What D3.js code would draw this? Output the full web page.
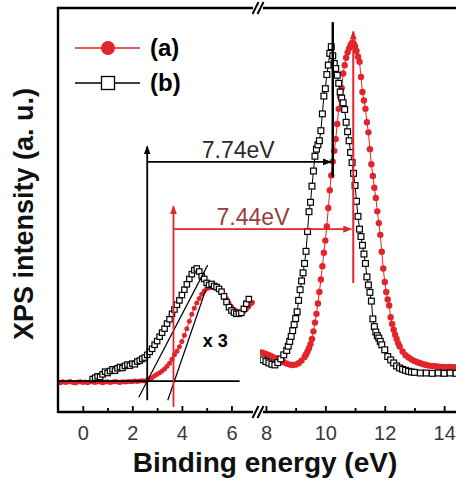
<!DOCTYPE html>
<html lang="en">
<head>
    <meta charset="UTF-8">
    <title>XPS valence band</title>
    <script src="https://d3js.org/d3.v7.min.js"></script>
    <style>
        body { margin: 0; background: #fff; }
        svg { display: block; font-family: "Liberation Sans", Arial, sans-serif; }
    </style>
</head>
<body>
<div id="chart"></div>
<script type="text/javascript">

    // ---- data (binding energy eV, intensity a.u.) ----
    // low energy part is shown x3
    var seriesALow = [
        [-1.0,-0.3],[-0.9,-0.5],[-0.8,-0.2],[-0.7,-0.4],[-0.6,-0.3],[-0.5,-0.1],[-0.4,-0.4],[-0.3,-0.6],
        [-0.2,-0.3],[-0.1,-0.2],[0.0,-0.4],[0.1,-0.3],[0.2,-0.5],[0.3,-0.2],[0.4,-0.3],[0.5,-0.4],
        [0.6,-0.2],[0.7,-0.3],[0.8,-0.5],[0.9,-0.3],[1.0,-0.2],[1.1,-0.4],[1.2,-0.3],[1.3,-0.1],
        [1.4,-0.3],[1.5,-0.4],[1.6,-0.2],[1.7,-0.3],[1.8,-0.2],[1.9,-0.1],[2.0,-0.2],[2.1,0.0],
        [2.2,-0.1],[2.3,0.0],[2.4,0.1],[2.5,0.0],[2.6,0.3],[2.7,0.7],[2.8,1.1],[2.9,1.6],
        [3.0,2.0],[3.1,2.5],[3.2,3.0],[3.3,3.6],[3.4,4.4],[3.5,5.3],[3.6,6.5],[3.7,7.8],
        [3.8,8.9],[3.9,10.2],[4.0,11.8],[4.1,13.6],[4.2,15.6],[4.3,17.8],[4.4,19.9],[4.5,21.7],
        [4.6,23.2],[4.7,24.6],[4.8,25.8],[4.9,26.8],[5.0,27.5],[5.1,27.8],[5.2,27.9],[5.3,27.8],
        [5.4,27.6],[5.5,27.2],[5.6,26.6],[5.7,25.7],[5.8,24.5],[5.9,23.3],[6.0,22.2],[6.1,21.4],
        [6.2,20.9],[6.3,20.6],[6.4,20.5],[6.5,20.7],[6.6,21.3],[6.7,22.1],[6.8,23.0],[6.85,23.4]
    ];
    var seriesBLow = [
        [0.4,0.6],[0.5,1.0],[0.6,1.4],[0.7,1.2],[0.8,2.0],[0.9,2.8],[1.0,2.4],[1.1,3.0],
        [1.2,3.5],[1.3,3.1],[1.4,3.8],[1.5,4.2],[1.6,3.9],[1.7,4.5],[1.8,4.9],[1.9,4.6],
        [2.0,5.2],[2.1,5.0],[2.2,5.8],[2.3,6.1],[2.4,6.6],[2.5,7.0],[2.6,7.8],[2.7,8.7],
        [2.8,9.6],[2.9,10.8],[3.0,11.9],[3.1,13.2],[3.2,14.4],[3.3,15.6],[3.4,17.1],[3.5,18.4],
        [3.6,20.0],[3.7,21.3],[3.8,22.7],[3.9,24.0],[4.0,25.6],[4.1,27.2],[4.2,28.8],[4.3,30.4],
        [4.4,31.8],[4.5,33.0],[4.6,33.5],[4.7,32.6],[4.8,31.2],[4.9,30.4],[5.0,29.2],[5.1,28.6],
        [5.2,28.9],[5.3,28.3],[5.4,28.0],[5.5,27.4],[5.6,26.6],[5.7,25.2],[5.8,23.5],[5.9,22.0],
        [6.0,21.0],[6.1,20.4],[6.2,20.0],[6.3,20.1],[6.4,20.3],[6.5,21.5],[6.6,23.0],[6.7,24.4]
    ];
    var seriesAHigh = [
        [7.85,8.5],[7.9,8.4],[8.0,8.1],[8.1,7.7],[8.2,7.3],[8.3,6.9],[8.4,6.5],[8.5,6.0],
        [8.6,5.6],[8.7,5.2],[8.8,4.9],[8.9,4.8],[9.0,4.9],[9.1,5.3],[9.2,6.1],[9.3,7.2],
        [9.35,7.9],[9.4,8.8],[9.45,9.8],[9.5,11.0],[9.55,12.5],[9.6,14.8],[9.65,17.4],[9.7,20.0],
        [9.75,23.1],[9.8,26.5],[9.85,30.2],[9.9,34.2],[9.95,38.2],[10.0,41.8],[10.05,46.0],[10.1,51.5],
        [10.15,56.8],[10.2,61.2],[10.25,65.3],[10.3,68.5],[10.35,72.0],[10.4,76.5],[10.45,81.0],[10.5,84.5],
        [10.55,87.2],[10.6,91.5],[10.65,94.0],[10.7,96.2],[10.75,97.8],[10.8,99.0],[10.85,100.0],[10.9,100.6],
        [10.95,100.5],[11.0,99.6],[11.05,98.2],[11.1,96.5],[11.15,95.0],[11.2,90.5],[11.25,86.0],[11.3,83.5],
        [11.35,81.0],[11.4,77.0],[11.45,74.0],[11.5,69.0],[11.55,64.5],[11.6,61.0],[11.65,57.5],[11.7,54.5],
        [11.75,50.5],[11.8,47.0],[11.85,43.5],[11.9,38.5],[11.95,33.5],[12.0,29.5],[12.05,26.5],[12.1,24.3],
        [12.15,22.5],[12.2,19.0],[12.25,17.0],[12.3,15.3],[12.35,13.8],[12.4,12.5],[12.45,11.3],[12.5,10.3],
        [12.6,8.8],[12.7,7.7],[12.8,7.0],[12.9,6.4],[13.0,6.0],[13.1,5.6],[13.2,5.3],[13.3,5.0],
        [13.4,4.8],[13.5,4.6],[13.6,4.5],[13.7,4.4],[13.8,4.3],[13.9,4.2],[14.0,4.2],[14.1,4.1],
        [14.2,4.2],[14.3,4.1],[14.4,4.1]
    ];
    var seriesBHigh = [
        [7.9,6.3],[8.0,5.8],[8.1,5.4],[8.2,5.0],[8.3,4.8],[8.4,5.5],[8.5,6.6],[8.6,7.8],
        [8.7,9.1],[8.75,10.4],[8.8,11.8],[8.85,13.3],[8.9,15.0],[8.95,16.8],[9.0,18.6],[9.05,20.6],
        [9.1,24.0],[9.15,27.2],[9.2,29.8],[9.25,32.2],[9.3,35.0],[9.35,38.6],[9.4,44.5],[9.45,50.4],
        [9.5,53.2],[9.55,58.0],[9.6,62.5],[9.65,66.9],[9.7,69.0],[9.75,70.3],[9.8,71.5],[9.85,74.5],
        [9.9,79.5],[9.95,84.8],[10.0,87.0],[10.05,91.2],[10.1,94.0],[10.15,97.5],[10.2,99.5],[10.25,96.8],
        [10.3,94.5],[10.35,93.0],[10.4,91.0],[10.45,88.6],[10.5,86.0],[10.55,84.2],[10.6,82.8],[10.65,80.8],
        [10.7,77.0],[10.75,74.2],[10.8,71.5],[10.85,68.0],[10.9,65.0],[10.95,61.8],[11.0,58.2],[11.05,53.5],
        [11.1,49.0],[11.15,45.2],[11.2,43.0],[11.25,40.4],[11.3,37.8],[11.35,35.0],[11.4,31.0],[11.45,28.6],
        [11.5,26.4],[11.55,23.8],[11.6,18.5],[11.65,16.2],[11.7,14.6],[11.75,13.5],[11.8,12.8],[11.85,11.8],
        [11.9,10.8],[12.0,9.3],[12.1,7.3],[12.2,6.3],[12.3,5.4],[12.4,4.5],[12.5,3.9],[12.6,3.5],
        [12.7,3.2],[12.8,2.9],[12.9,2.7],[13.0,2.6],[13.2,2.4],[13.4,2.4],[13.6,2.3],[13.8,2.4],
        [14.0,2.3],[14.2,2.4],[14.4,2.3]
    ];

    var ticksLow = [0, 2, 4, 6];
    var ticksHigh = [8, 10, 12, 14];
    var minorLow = [1, 3, 5];
    var minorHigh = [9, 11, 13];

    // onset (low scale) and peak (high scale) energies, arrow levels
    var gapLabels = ["7.74eV", "7.44eV"];
    var onsetEnergy = [2.6, 3.66];
    var peakEnergy = [10.25, 10.94];
    var arrowLevel = [65.2, 45.2];
    // linear fits of the leading edges
    var tangentB = [[2.26, -4.8], [5.04, 34.5]];
    var tangentA = [[3.43, -5.7], [4.96, 27.1]];

    var red = "#e3242b";

    //Width and height
    var width = 456;
    var height = 480;
    var axisY = 412, topY = 8, leftX = 58;

    // broken x axis: two linear pieces
    var xLow = d3.scaleLinear().domain([-1, 6.95]).range([58, 255]);
    var xHigh = d3.scaleLinear().domain([7.8, 14.5]).range([260, 459]);
    var y = d3.scaleLinear().domain([-9.2, 111]).range([axisY, topY]);

    var svg = d3.select("#chart")
        .append("svg")
        .attr("width", width)
        .attr("height", height);

    var defs = svg.append("defs");
    defs.append("clipPath").attr("id", "clipLow")
        .append("rect").attr("x", leftX).attr("y", topY).attr("width", 255 - leftX).attr("height", axisY - topY);
    defs.append("clipPath").attr("id", "clipHigh")
        .append("rect").attr("x", 260).attr("y", topY).attr("width", width - 260).attr("height", axisY - topY);

    function addArrow(id, color) {
        defs.append("marker")
            .attr("id", id)
            .attr("markerUnits", "userSpaceOnUse")
            .attr("markerWidth", 9).attr("markerHeight", 7)
            .attr("refX", 8).attr("refY", 3.5)
            .attr("orient", "auto")
            .append("path")
            .attr("d", "M0,0 L9,3.5 L0,7 Z")
            .attr("fill", color);
    }
    addArrow("arrBlack", "#000");
    addArrow("arrRed", red);

    // draw one series on one piece of the axis
    function drawSeries(data, x, clip, kind, r) {
        var g = svg.append("g").attr("clip-path", "url(#" + clip + ")");
        var line = d3.line().x(function(d) { return x(d[0]); }).y(function(d) { return y(d[1]); });
        g.append("path")
            .datum(data)
            .attr("d", line)
            .attr("fill", "none")
            .attr("stroke", kind == "a" ? red : "#000")
            .attr("stroke-width", 1);
        if (kind == "a") {
            g.selectAll("circle")
                .data(data)
                .enter()
                .append("circle")
                .attr("cx", function(d) { return x(d[0]); })
                .attr("cy", function(d) { return y(d[1]); })
                .attr("r", r)
                .attr("fill", red);
        } else {
            g.selectAll("rect")
                .data(data)
                .enter()
                .append("rect")
                .attr("x", function(d) { return x(d[0]) - r; })
                .attr("y", function(d) { return y(d[1]) - r; })
                .attr("width", 2 * r)
                .attr("height", 2 * r)
                .attr("fill", "#fff")
                .attr("stroke", "#000")
                .attr("stroke-width", 1.2);
        }
    }

    drawSeries(seriesALow, xLow, "clipLow", "a", 2.5);
    drawSeries(seriesAHigh, xHigh, "clipHigh", "a", 3.2);
    drawSeries(seriesBLow, xLow, "clipLow", "b", 2.7);
    drawSeries(seriesBHigh, xHigh, "clipHigh", "b", 2.9);

    // baseline and edge fits
    var ann = svg.append("g");
    ann.append("line")
        .attr("x1", xLow(-1)).attr("x2", xLow(6.33))
        .attr("y1", y(0)).attr("y2", y(0))
        .attr("stroke", "#000").attr("stroke-width", 1.8);
    [tangentB, tangentA].forEach(function(t) {
        ann.append("line")
            .attr("x1", xLow(t[0][0])).attr("y1", y(t[0][1]))
            .attr("x2", xLow(t[1][0])).attr("y2", y(t[1][1]))
            .attr("stroke", "#000").attr("stroke-width", 1.2);
    });

    // black: onset -> peak of (b)
    ann.append("line")
        .attr("x1", xLow(onsetEnergy[0])).attr("x2", xLow(onsetEnergy[0]))
        .attr("y1", y(-5.7)).attr("y2", y(69.8))
        .attr("stroke", "#000").attr("stroke-width", 1.8)
        .attr("marker-end", "url(#arrBlack)");
    ann.append("line")
        .attr("x1", xLow(onsetEnergy[0])).attr("x2", xHigh(peakEnergy[0]) - 2)
        .attr("y1", y(arrowLevel[0])).attr("y2", y(arrowLevel[0]))
        .attr("stroke", "#000").attr("stroke-width", 1.8)
        .attr("marker-end", "url(#arrBlack)");
    ann.append("line")
        .attr("x1", xHigh(peakEnergy[0])).attr("x2", xHigh(peakEnergy[0]))
        .attr("y1", y(60.7)).attr("y2", y(106.8))
        .attr("stroke", "#000").attr("stroke-width", 2.5);

    // red: onset -> peak of (a)
    ann.append("line")
        .attr("x1", xLow(onsetEnergy[1])).attr("x2", xLow(onsetEnergy[1]))
        .attr("y1", y(-7.7)).attr("y2", y(52))
        .attr("stroke", red).attr("stroke-width", 1.8)
        .attr("marker-end", "url(#arrRed)");
    ann.append("line")
        .attr("x1", xLow(onsetEnergy[1])).attr("x2", xHigh(peakEnergy[1]) - 2)
        .attr("y1", y(arrowLevel[1])).attr("y2", y(arrowLevel[1]))
        .attr("stroke", red).attr("stroke-width", 1.8)
        .attr("marker-end", "url(#arrRed)");
    ann.append("line")
        .attr("x1", xHigh(peakEnergy[1])).attr("x2", xHigh(peakEnergy[1]))
        .attr("y1", y(29.2)).attr("y2", y(104))
        .attr("stroke", red).attr("stroke-width", 2)
        .attr("marker-end", "url(#arrRed)");

    ann.append("text")
        .attr("x", xLow(4.8)).attr("y", y(66.4))
        .attr("font-size", 23).attr("fill", "#2a2a2a")
        .text(gapLabels[0]);
    ann.append("text")
        .attr("x", xLow(5.4)).attr("y", y(46.4))
        .attr("font-size", 23).attr("fill", "#9a3c3c")
        .text(gapLabels[1]);
    ann.append("text")
        .attr("x", xLow(4.84)).attr("y", y(10.1))
        .attr("font-size", 18).attr("font-weight", "bold")
        .text("x 3");

    // frame with axis break
    var frame = svg.append("g").attr("stroke", "#000").attr("stroke-width", 2.4).attr("fill", "none");
    frame.append("path").attr("d", "M" + leftX + "," + (axisY + 1) + "V" + topY + "H253");
    frame.append("path").attr("d", "M263," + topY + "H" + width);
    frame.append("path").attr("d", "M" + leftX + "," + axisY + "H253");
    frame.append("path").attr("d", "M263," + axisY + "H" + width);
    [topY, axisY].forEach(function(yy) {
        [255.5, 260.5].forEach(function(cx) {
            frame.append("line")
                .attr("x1", cx - 3).attr("y1", yy + 6)
                .attr("x2", cx + 3).attr("y2", yy - 6)
                .attr("stroke-width", 2);
        });
    });

    // ticks (inward) and labels
    function drawAxis(x, major, minor) {
        var g = svg.append("g")
            .attr("transform", "translate(0," + axisY + ")")
            .call(d3.axisBottom(x).tickValues(major).tickSize(-6).tickPadding(14).tickFormat(d3.format("d")));
        g.select(".domain").remove();
        g.selectAll(".tick line").attr("stroke-width", 1.8);
        g.selectAll("text")
            .attr("font-size", 20)
            .attr("font-family", "'Liberation Sans', Arial, sans-serif")
            .attr("fill", "#383838");
        var m = svg.append("g")
            .attr("transform", "translate(0," + axisY + ")")
            .call(d3.axisBottom(x).tickValues(minor).tickSize(-4).tickFormat(""));
        m.select(".domain").remove();
        m.selectAll(".tick line").attr("stroke-width", 1.8);
    }
    drawAxis(xLow, ticksLow, minorLow);
    drawAxis(xHigh, ticksHigh, minorHigh);

    // axis titles
    svg.append("text")
        .attr("x", 265).attr("y", 472)
        .attr("text-anchor", "middle")
        .attr("font-size", 28).attr("font-weight", "bold").attr("fill", "#111")
        .text("Binding energy (eV)");
    svg.append("text")
        .attr("transform", "translate(33,214) rotate(-90)")
        .attr("text-anchor", "middle")
        .attr("font-size", 27).attr("font-weight", "bold").attr("fill", "#111")
        .text("XPS intensity (a. u.)");

    // legend
    var legend = svg.append("g");
    legend.append("line").attr("x1", 75).attr("x2", 140).attr("y1", 48).attr("y2", 48)
        .attr("stroke", red).attr("stroke-width", 1.3);
    legend.append("circle").attr("cx", 108).attr("cy", 48).attr("r", 7).attr("fill", red);
    legend.append("text").attr("x", 150).attr("y", 56)
        .attr("font-size", 24).attr("font-weight", "bold").text("(a)");
    legend.append("line").attr("x1", 75).attr("x2", 140).attr("y1", 83).attr("y2", 83)
        .attr("stroke", "#000").attr("stroke-width", 1.3);
    legend.append("rect").attr("x", 101.5).attr("y", 76.5).attr("width", 13).attr("height", 13)
        .attr("fill", "#fff").attr("stroke", "#000").attr("stroke-width", 1.3);
    legend.append("text").attr("x", 150).attr("y", 91)
        .attr("font-size", 24).attr("font-weight", "bold").text("(b)");
</script>
</body>
</html>
